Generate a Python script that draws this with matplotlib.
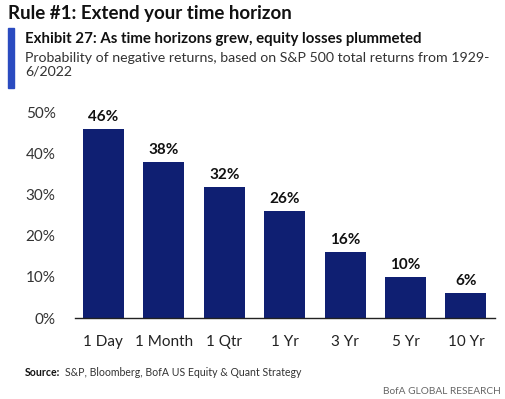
import matplotlib
matplotlib.use("Agg")
import matplotlib.pyplot as plt
from matplotlib.patches import Rectangle

plt.rcParams['font.family'] = ['Lato', 'DejaVu Sans']

categories = ["1 Day", "1 Month", "1 Qtr", "1 Yr", "3 Yr", "5 Yr", "10 Yr"]
values = [46, 38, 32, 26, 16, 10, 6]
yticks = [0, 10, 20, 30, 40, 50]

bar_color = "#0f1f72"
fig = plt.figure(figsize=(5.05, 3.99), dpi=100)
ax = fig.add_axes([0.1485, 0.203, 0.8315, 0.514])
x = range(len(categories))
ax.bar(x, values, width=0.68, color=bar_color)
for xi, v in zip(x, values):
    ax.text(xi, v + 1.2, f"{v}%", ha="center", va="bottom", fontsize=11,
            fontweight="bold", color="#111111", clip_on=False)
ax.set_xlim(-0.47, 6.48)
ax.set_ylim(0, 50)
ax.set_yticks(yticks)
ax.set_yticklabels([f"{t}%" for t in yticks], fontsize=11, color="#333333")
ax.set_xticks(list(x))
ax.set_xticklabels(categories, fontsize=11, color="#222222")
ax.tick_params(axis="x", length=0, pad=12)
ax.tick_params(axis="y", length=0, pad=14)
for s in ["top", "right", "left"]:
    ax.spines[s].set_visible(False)
ax.spines["bottom"].set_color("#222222")
ax.spines["bottom"].set_linewidth(1.0)

fig.text(8/505, 1 - 5/399, "Rule #1: Extend your time horizon", fontsize=13.5,
         fontweight="bold", ha="left", va="top", color="#111111")
fig.patches.append(Rectangle((8/505, 1 - 88/399), 6/505, 60/399,
                             transform=fig.transFigure, color="#2a4bc0"))
fig.text(25/505, 1 - 32/399, "Exhibit 27: As time horizons grew, equity losses plummeted",
         fontsize=10.8, fontweight="bold", ha="left", va="top", color="#111111")
fig.text(25/505, 1 - 52/399,
         "Probability of negative returns, based on S&P 500 total returns from 1929-\n6/2022",
         fontsize=10.2, ha="left", va="top", color="#333333", linespacing=1.15)
fig.text(25/505, 1 - 373/399, "Source:", fontsize=7.6, fontweight="bold",
         ha="left", va="center", color="#111111")
fig.text(65/505, 1 - 373/399, "S&P, Bloomberg, BofA US Equity & Quant Strategy",
         fontsize=7.6, ha="left", va="center", color="#333333")
fig.text(501/505, 1 - 391/399, "BofA GLOBAL RESEARCH", fontsize=7.3,
         ha="right", va="center", color="#666666")

fig.savefig("out.png", dpi=100, facecolor="white")
